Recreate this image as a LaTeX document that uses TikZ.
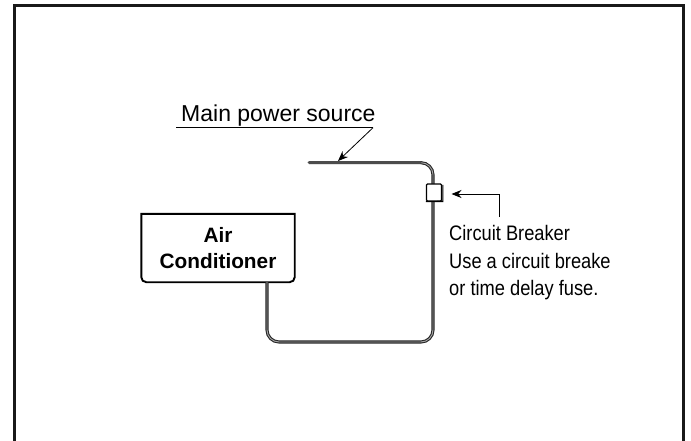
\documentclass[tikz,border=0pt]{standalone}
\usepackage{fontspec}
\setmainfont{Liberation Sans}
\newfontfamily\narrowfont[FakeStretch=0.87]{Liberation Sans}
\usetikzlibrary{arrows.meta}

\begin{document}
\begin{tikzpicture}[x=1pt, y=-1pt,
  frameline/.style={line width=3pt, line cap=butt, black!90},
  wire/.style={line width=1.1pt, draw=black!85, double=black!35, double distance=0.9pt, rounded corners=12pt},
  feedline/.style={line width=3pt, black!70, line cap=round},
  leader/.style={line width=0.8pt},
  pointer/.style={leader, -{Stealth[length=10pt, width=8pt]}},
  plainlabel/.style={font=\fontsize{23}{27}\selectfont, inner sep=0pt},
  notelabel/.style={font=\narrowfont\fontsize{21}{27.2}\selectfont, inner sep=0pt, align=left},
  unitbox/.style={font=\bfseries\fontsize{20.8}{26.5}\selectfont, align=center, minimum width=153pt, minimum height=68pt, inner sep=0pt}
]
\useasboundingbox (0,0) rectangle (691,441);

%% --- outer frame, open at the bottom ---
\draw[frameline] (14.5,441) -- (14.5,6) -- (683.5,6) -- (683.5,441);

%% --- air conditioner ---
\node[unitbox] (aircon) at (218,248) {Air\\Conditioner};
\draw[line width=1.9pt] (aircon.north west) [rounded corners=5pt] -- (aircon.south west)
  -- (aircon.south east) [sharp corners] -- (aircon.north east) -- cycle;

%% --- wire ---
\coordinate (wireend)   at (309,162.7);
\coordinate (wirestraight) at (420,162.7);
\coordinate (wiretop)   at (433,162.7);
\coordinate (wirelow)   at (433,342);
\coordinate (wireleft)  at (267,342);
\coordinate (wirefoot)  at (267,282);
\draw[wire] (wireend) -- (wiretop) -- (wirelow) -- (wireleft) -- (wirefoot);
\draw[feedline] (wireend) -- (wirestraight);

%% --- circuit breaker ---
\node[draw, fill=white, line width=1.3pt, rounded corners=1pt, inner sep=0pt,
  minimum width=15pt, minimum height=17pt] (breaker) at (434,192.5) {};
\coordinate (shadowa) at (442.8,185);
\coordinate (shadowb) at (442.8,201.5);
\draw[line width=1.1pt] (shadowa) -- (shadowb) -- (breaker.south west);

%% --- main power source label ---
\node[plainlabel, anchor=base west] (source) at (181,121.5) {Main power source};
\coordinate (linestart) at (176,127.7);
\coordinate (lineend)   at (373,127.7);
\coordinate (sourcetip) at (338,161);
\draw[leader] (linestart) -- (lineend);
\draw[pointer] (lineend) -- (sourcetip);

%% --- circuit breaker note ---
\node[notelabel, anchor=north west] (note) at (449,225.5) {Circuit Breaker\\Use a circuit breake\\or time delay fuse.};
\coordinate (notefoot)  at (499.5,217);
\coordinate (notebend)  at (499.5,194);
\coordinate (notetip)   at (451.5,194);
\draw[pointer] (notefoot) -- (notebend) -- (notetip);

\end{tikzpicture}
\end{document}
